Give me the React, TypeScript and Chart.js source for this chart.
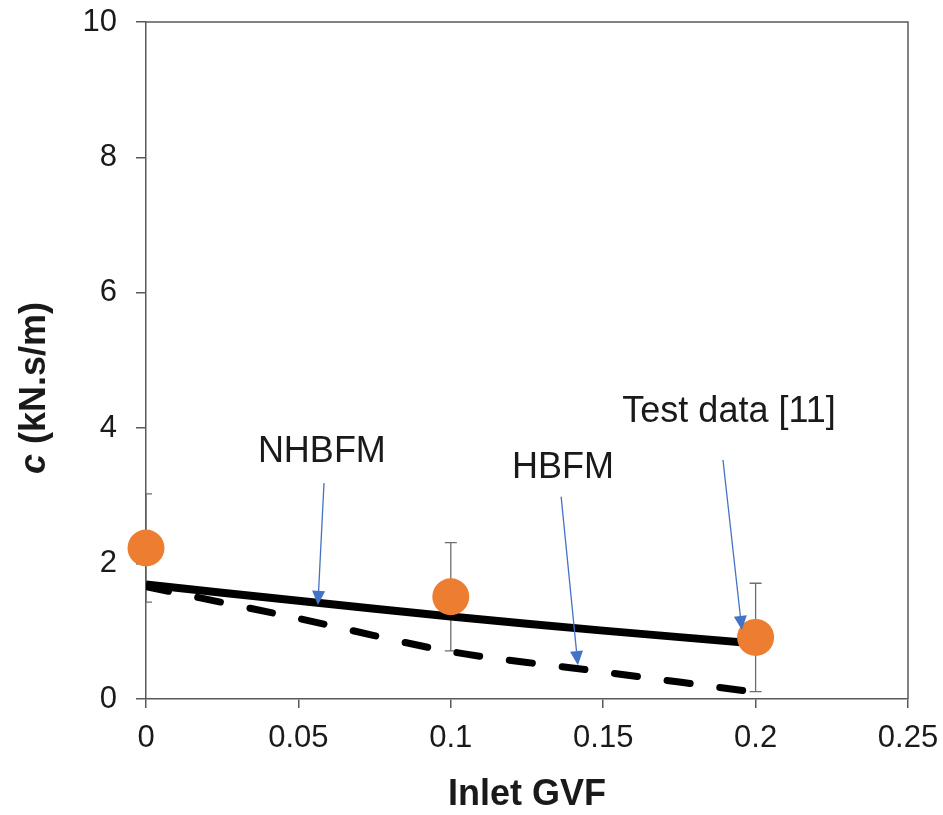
import { useEffect, useRef } from 'react';
import { Chart, registerables } from 'chart.js';

Chart.register(...registerables);

// ---- data ----
const xTicks = [0, 0.05, 0.1, 0.15, 0.2, 0.25];
const xTickLabels = ['0', '0.05', '0.1', '0.15', '0.2', '0.25'];
const yTicks = [0, 2, 4, 6, 8, 10];
const yTickLabels = ['0', '2', '4', '6', '8', '10'];

const modelGvf = [0, 0.05, 0.1, 0.15, 0.2];
const nhbfm = [1.69, 1.45, 1.22, 1.01, 0.82];
const hbfm = [1.66, 1.19, 0.7, 0.4, 0.1];

const testGvf = [0, 0.1, 0.2];
const testC = [2.23, 1.51, 0.91];
const testErr = [0.8, 0.8, 0.8];

const annLabels = ['NHBFM', 'HBFM', 'Test data [11]'];
const annTextX = [0.0577, 0.1368, 0.1913];
const annTextY = [3.65, 3.41, 4.24];
const annFromX = [0.0584, 0.1362, 0.1893];
const annFromY = [3.19, 2.99, 3.53];
const annToX = [0.0564, 0.1417, 0.1955];
const annToY = [1.39, 0.5, 1.02];

const FONT = '"Liberation Sans", Arial, sans-serif';
const AXIS = '#595959';
const TEXT = '#1a1a1a';

const decorPlugin = {
  id: 'decor',
  beforeDatasetsDraw(chart: any) {
    const { ctx, chartArea: a, scales } = chart;
    const xs = scales.x, ys = scales.y;
    ctx.save();
    ctx.beginPath();
    ctx.rect(a.left, a.top, a.right - a.left, a.bottom - a.top);
    ctx.clip();
    ctx.strokeStyle = '#6e6e6e';
    ctx.lineWidth = 1.3;
    for (let i = 0; i < testGvf.length; i++) {
      const px = xs.getPixelForValue(testGvf[i]);
      const pt = ys.getPixelForValue(testC[i] + testErr[i]);
      const pb = ys.getPixelForValue(testC[i] - testErr[i]);
      ctx.beginPath();
      ctx.moveTo(px, pt);
      ctx.lineTo(px, pb);
      ctx.moveTo(px - 6, pt);
      ctx.lineTo(px + 6, pt);
      ctx.moveTo(px - 6, pb);
      ctx.lineTo(px + 6, pb);
      ctx.stroke();
    }
    ctx.restore();
  },
  afterDatasetsDraw(chart: any) {
    const { ctx, chartArea: a, scales } = chart;
    const xs = scales.x, ys = scales.y;
    ctx.save();
    // frame (top and right)
    ctx.strokeStyle = AXIS;
    ctx.lineWidth = 1.5;
    ctx.beginPath();
    ctx.moveTo(a.left, a.top);
    ctx.lineTo(a.right, a.top);
    ctx.lineTo(a.right, a.bottom);
    ctx.stroke();

    // annotations
    ctx.font = `36px ${FONT}`;
    ctx.textAlign = 'center';
    ctx.textBaseline = 'middle';
    for (let i = 0; i < annLabels.length; i++) {
      ctx.fillStyle = TEXT;
      ctx.fillText(annLabels[i], xs.getPixelForValue(annTextX[i]), ys.getPixelForValue(annTextY[i]));
      const x1 = xs.getPixelForValue(annFromX[i]);
      const y1 = ys.getPixelForValue(annFromY[i]);
      const x2 = xs.getPixelForValue(annToX[i]);
      const y2 = ys.getPixelForValue(annToY[i]);
      const ang = Math.atan2(y2 - y1, x2 - x1);
      const hl = 14, hw = 6.5;
      const bx = x2 - hl * Math.cos(ang);
      const by = y2 - hl * Math.sin(ang);
      ctx.strokeStyle = '#4472C4';
      ctx.fillStyle = '#4472C4';
      ctx.lineWidth = 1.3;
      ctx.beginPath();
      ctx.moveTo(x1, y1);
      ctx.lineTo(bx, by);
      ctx.stroke();
      ctx.beginPath();
      ctx.moveTo(x2, y2);
      ctx.lineTo(bx + hw * Math.sin(ang), by - hw * Math.cos(ang));
      ctx.lineTo(bx - hw * Math.sin(ang), by + hw * Math.cos(ang));
      ctx.closePath();
      ctx.fill();
    }

    // axis titles
    ctx.fillStyle = TEXT;
    ctx.font = `bold 36px ${FONT}`;
    ctx.textAlign = 'center';
    ctx.textBaseline = 'middle';
    ctx.fillText('Inlet GVF', (a.left + a.right) / 2, a.bottom + 96);

    ctx.save();
    ctx.translate(a.left - 111, a.top + 366);
    ctx.rotate(-Math.PI / 2);
    ctx.textAlign = 'left';
    const part1 = 'c';
    const part2 = ' (kN.s/m)';
    ctx.font = `italic bold 36px ${FONT}`;
    const w1 = ctx.measureText(part1).width;
    ctx.font = `bold 36px ${FONT}`;
    const w2 = ctx.measureText(part2).width;
    const start = -(w1 + w2) / 2;
    ctx.font = `italic bold 36px ${FONT}`;
    ctx.fillText(part1, start, 0);
    ctx.font = `bold 36px ${FONT}`;
    ctx.fillText(part2, start + w1, 0);
    ctx.restore();

    ctx.restore();
  },
};

export default function App() {
  const ref = useRef<HTMLCanvasElement>(null);
  useEffect(() => {
    const chart = new Chart(ref.current!, {
      type: 'scatter',
      data: {
        datasets: [
          {
            label: 'Test data [11]',
            data: testGvf.map((x, i) => ({ x, y: testC[i] })),
            backgroundColor: '#ED7D31',
            borderColor: '#ED7D31',
            borderWidth: 0,
            pointRadius: 18.5,
            pointHoverRadius: 18.5,
            showLine: false,
            clip: false as any,
            order: 0,
          },
          {
            label: 'NHBFM',
            data: modelGvf.map((x, i) => ({ x, y: nhbfm[i] })),
            borderColor: '#000000',
            backgroundColor: '#000000',
            borderWidth: 8,
            pointRadius: 0,
            showLine: true,
            tension: 0.3,
            order: 1,
          },
          {
            label: 'HBFM',
            data: modelGvf.map((x, i) => ({ x, y: hbfm[i] })),
            borderColor: '#000000',
            backgroundColor: '#000000',
            borderWidth: 7,
            borderDash: [23, 30],
            borderCapStyle: 'round',
            pointRadius: 0,
            showLine: true,
            tension: 0.3,
            order: 2,
          },
        ],
      },
      options: {
        responsive: false,
        animation: false,
        layout: { padding: { left: 0, right: 35, top: 22, bottom: 0 } },
        plugins: { legend: { display: false }, tooltip: { enabled: false } },
        scales: {
          x: {
            type: 'linear',
            min: 0,
            max: 0.25,
            afterBuildTicks: (s: any) => {
              s.ticks = xTicks.map((v) => ({ value: v }));
            },
            afterFit: (s: any) => {
              s.height = 116;
              s.paddingLeft = 0;
              s.paddingRight = 0;
            },
            ticks: {
              callback: (_v: any, i: number) => xTickLabels[i],
              font: { size: 31, family: FONT },
              color: TEXT,
              padding: 12,
              maxRotation: 0,
            },
            grid: { drawOnChartArea: false, drawTicks: true, tickLength: 9, color: AXIS, lineWidth: 1.5 },
            border: { display: true, color: AXIS, width: 1.5 },
          },
          y: {
            type: 'linear',
            min: 0,
            max: 10,
            afterBuildTicks: (s: any) => {
              s.ticks = yTicks.map((v) => ({ value: v }));
            },
            afterFit: (s: any) => {
              s.width = 146;
              s.paddingTop = 0;
              s.paddingBottom = 0;
            },
            ticks: {
              callback: (_v: any, i: number) => yTickLabels[i],
              font: { size: 31, family: FONT },
              color: TEXT,
              padding: 19,
            },
            grid: { drawOnChartArea: false, drawTicks: true, tickLength: 10, color: AXIS, lineWidth: 1.5 },
            border: { display: true, color: AXIS, width: 1.5 },
          },
        },
      },
      plugins: [decorPlugin],
    });
    return () => chart.destroy();
  }, []);
  return (
    <div style={{ position: 'absolute', left: 0, top: 0, width: 943, height: 815 }}>
      <canvas ref={ref} width={943} height={815} />
    </div>
  );
}
